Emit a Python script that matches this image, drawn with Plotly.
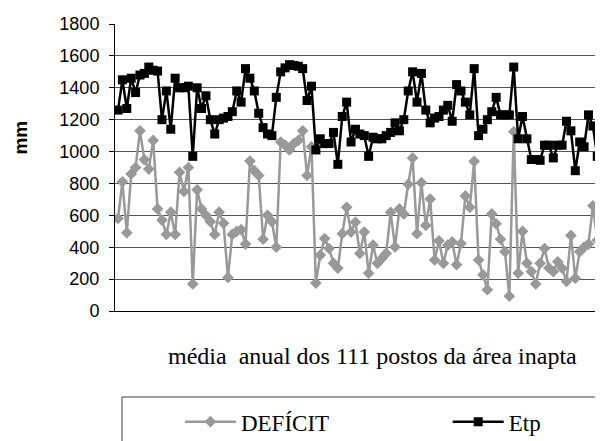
import plotly.graph_objects as go

# 111 stations, annual means (mm)
postos = list(range(1, 112))

deficit = [
    580, 810, 490, 860, 900, 1130, 950, 890, 1070, 640,
    570, 480, 620, 480, 870, 750, 900, 170, 760, 640,
    600, 560, 480, 620, 550, 210, 480, 500, 510, 420,
    940, 880, 850, 450, 600, 560, 400, 1060, 1040, 1010,
    1050, 1070, 1130, 850, 1030, 175, 351, 454, 392, 300,
    268, 485, 650, 495, 557, 361, 495, 237, 413, 299,
    330, 361, 619, 402, 640, 609, 795, 960, 485, 805,
    537, 702, 320, 440, 299, 413, 433, 290, 423, 722,
    650, 939, 320, 227, 134, 609, 547, 450, 372, 93,
    1125, 237, 500, 300, 247, 170, 299, 392, 270, 247,
    309, 268, 186, 474, 206, 372, 400, 420, 660, 444,
    505,
]

etp = [
    1260, 1450, 1270, 1460, 1370, 1480, 1490, 1530, 1510, 1505,
    1200, 1380, 1140, 1460, 1400, 1400, 1410, 970, 1400, 1270,
    1350, 1200, 1110, 1200, 1210, 1220, 1250, 1380, 1310, 1520,
    1460, 1380, 1240, 1150, 1110, 1100, 1340, 1500, 1525, 1545,
    1540, 1535, 1520, 1320, 1410, 1010, 1080, 1050, 1050, 1120,
    920, 1220, 1310, 1060, 1140, 1110, 1100, 970, 1090, 1080,
    1080, 1100, 1120, 1180, 1130, 1200, 1380, 1500, 1310, 1490,
    1260, 1180, 1210, 1220, 1260, 1290, 1190, 1420, 1380, 1310,
    1230, 1520, 1100, 1140, 1200, 1250, 1340, 1230, 1230, 1230,
    1530, 1080, 1220, 1080, 950, 950, 945, 1040, 1040, 960,
    1040, 1040, 1190, 1130, 880, 1060, 1030, 1230, 1160, 970,
    1150,
]

y_ticks = list(range(0, 1801, 200))

SERIF = "Liberation Serif, Times New Roman, serif"
SANS = "Liberation Sans, Arial, sans-serif"

fig = go.Figure()
fig.add_trace(go.Scatter(
    x=postos, y=deficit, name="DEFÍCIT", mode="lines+markers", legend="legend",
    line=dict(color="#999999", width=2.5),
    marker=dict(symbol="diamond", size=9, color="#999999"),
))
fig.add_trace(go.Scatter(
    x=postos, y=etp, name="Etp", mode="lines+markers", legend="legend2",
    line=dict(color="#000000", width=2.5),
    marker=dict(symbol="square", size=9, color="#000000"),
))

# legend frame (wider than the entries, cut by the bottom edge)
fig.add_shape(type="rect", xref="paper", yref="paper",
              x0=0.0143, x1=0.9898, y0=-0.48, y1=-0.2997,
              line=dict(color="#404040", width=1), fillcolor="rgba(0,0,0,0)")

fig.add_annotation(
    text="média  anual dos 111 postos da área inapta",
    xref="paper", yref="paper", x=0.5277, y=-0.1568,
    xanchor="center", yanchor="middle", showarrow=False,
    font=dict(family=SERIF, size=24, color="#000000"),
)
fig.add_annotation(
    text="<b>mm</b>", textangle=-90,
    xref="paper", yref="paper", x=-0.193, y=0.6035,
    xanchor="center", yanchor="middle", showarrow=False,
    font=dict(family=SANS, size=19, color="#000000"),
)

legend_style = dict(
    xref="container", yref="container", y=0.0446,
    xanchor="left", yanchor="middle", orientation="h",
    font=dict(family=SERIF, size=23, color="#000000"),
    itemwidth=51, bgcolor="rgba(0,0,0,0)", borderwidth=0,
)

fig.update_layout(
    width=595, height=433,
    margin=dict(l=107, r=0, t=16, b=130),
    paper_bgcolor="white", plot_bgcolor="white",
    font=dict(family=SANS, color="#000000"),
    showlegend=True,
    legend=dict(x=0.289, **legend_style),
    legend2=dict(x=0.739, **legend_style),
    xaxis=dict(
        range=[0.318, 111.3], showgrid=False, showticklabels=False, ticks="",
        showline=True, linecolor="#000000", linewidth=1, zeroline=False,
    ),
    yaxis=dict(
        range=[0, 1800], tickvals=y_ticks, showgrid=True,
        gridcolor="#555555", gridwidth=1,
        showline=True, linecolor="#000000", linewidth=1, zeroline=False,
        ticks="outside", ticklen=5, tickcolor="#000000",
        ticklabelstandoff=6,
        tickfont=dict(family=SANS, size=18, color="#000000"),
        automargin=False,
    ),
)

fig.write_html("out.html")
